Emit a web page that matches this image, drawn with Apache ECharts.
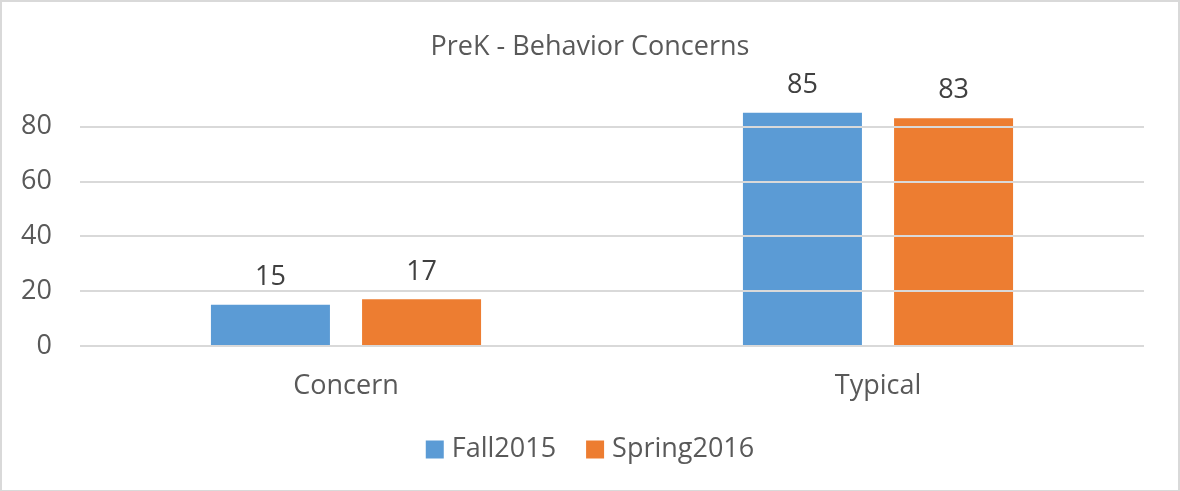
<!DOCTYPE html>
<html>
<head>
<meta charset="utf-8">
<script src="https://cdn.jsdelivr.net/npm/echarts@6/dist/echarts.min.js"></script>
<style>
html,body{margin:0;padding:0;background:#fff;}
#c{width:1180px;height:491px;box-sizing:border-box;border:2px solid #d9d9d9;border-bottom-width:1px;}
</style>
</head>
<body>
<div id="c"></div>
<script>
const title = 'PreK - Behavior Concerns';
const categories = ['Concern', 'Typical'];
const fall2015 = [15, 85];
const spring2016 = [17, 83];
const seriesNames = ['Fall2015', 'Spring2016'];
const yTicks = [0, 20, 40, 60, 80];

const FONT = '"Open Sans", sans-serif';
const chart = echarts.init(document.getElementById('c'));
chart.setOption({
  animation: false,
  title: {
    text: title, left: 'center', top: 27,
    textStyle: {fontFamily: FONT, fontSize: 27, fontWeight: 'normal', color: '#595959'}
  },
  legend: {
    data: seriesNames, bottom: 22, left: 'center', itemWidth: 18, itemHeight: 18, itemGap: 30,
    icon: 'rect',
    textStyle: {fontFamily: FONT, fontSize: 27, color: '#595959', padding: [0, 0, 0, 3]}
  },
  grid: {left: 78, right: 34, top: 97, bottom: 144},
  xAxis: {
    type: 'category', data: categories,
    axisLine: {show: false}, axisTick: {show: false},
    axisLabel: {fontFamily: FONT, fontSize: 27, color: '#595959', margin: 27}
  },
  yAxis: {
    type: 'value', min: 0, max: 90, interval: 20,
    axisLine: {show: false}, axisTick: {show: false}, splitLine: {show: false},
    axisLabel: {
      fontFamily: FONT, fontSize: 27, color: '#595959', margin: 28,
      formatter: v => yTicks.includes(v) ? String(v) : ''
    }
  },
  series: [
    {
      name: seriesNames[0], type: 'bar', data: fall2015, barWidth: 119, barGap: '27%',
      itemStyle: {color: '#5B9BD5'},
      label: {show: true, position: 'top', distance: 14, fontFamily: FONT, fontSize: 27, color: '#404040'},
      markLine: {
        silent: true, symbol: 'none', label: {show: false},
        lineStyle: {color: '#d9d9d9', width: 2, type: 'solid'},
        data: yTicks.map(t => ({yAxis: t}))
      },
      z: 3
    },
    {
      name: seriesNames[1], type: 'bar', data: spring2016, barWidth: 119,
      itemStyle: {color: '#ED7D31'},
      label: {show: true, position: 'top', distance: 14, fontFamily: FONT, fontSize: 27, color: '#404040'},
      z: 3
    }
  ]
});
</script>
</body>
</html>
